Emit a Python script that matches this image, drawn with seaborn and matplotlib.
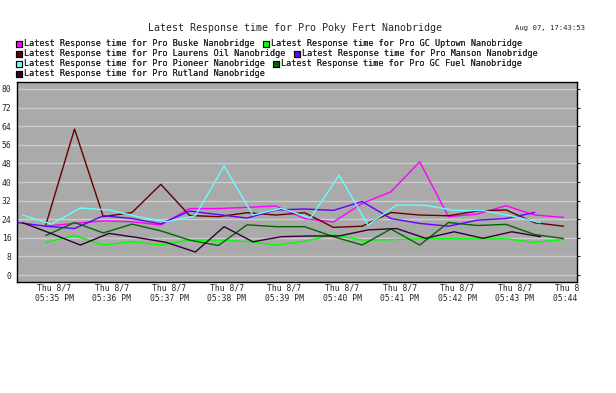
#!/usr/bin/env python3
"""Latest response time per nanobridge, Pro Poky Fert view."""

import pandas as pd
import matplotlib
matplotlib.use('Agg')
import matplotlib.pyplot as plt
from matplotlib.lines import Line2D
from matplotlib.transforms import Bbox, TransformedBbox
import seaborn as sns

# Poll times (two pollers, a few seconds apart)
TIMES_A = ['17:34:21', '17:34:51', '17:35:21', '17:35:51', '17:36:21',
           '17:36:51', '17:37:21', '17:37:51', '17:38:21', '17:38:51',
           '17:39:21', '17:39:51', '17:40:21', '17:40:51', '17:41:21',
           '17:41:51', '17:42:21', '17:42:51', '17:43:21', '17:43:51']
TIMES_B = ['17:34:27', '17:34:57', '17:35:27', '17:35:57', '17:36:27',
           '17:36:57', '17:37:27', '17:37:57', '17:38:27', '17:38:57',
           '17:39:27', '17:39:57', '17:40:27', '17:40:57', '17:41:27',
           '17:41:57', '17:42:27', '17:42:57', '17:43:27', '17:43:57']

NAMES = ['Buske', 'GC Uptown', 'Laurens Oil', 'Manson', 'Pioneer', 'GC Fuel', 'Rutland']
COLORS = ['#ff00ff', '#00ff00', '#660000', '#6600ff', '#66ffff', '#006600', '#330033']

N = None
buske = [N, 21.0, 22.2, 23.3, 22.9, 21.5, 28.6, 28.6, 29.1, 29.7,
         24.3, 22.8, 30.8, 35.8, 48.7, 25.1, 26.2, 29.8, 25.8, 24.8]
gc_uptown = [N, 14.1, 17.0, 12.9, 14.3, 12.9, 15.0, 15.0, 14.4, 12.9,
             14.5, 17.3, 15.0, 15.2, 15.6, 15.6, 15.6, 15.6, 14.0, 15.3]
laurens_oil = [N, 21.5, 62.8, 25.1, 26.9, 39.0, 25.6, 25.1, 26.8, 25.8,
               26.8, 20.5, 21.0, 26.9, 25.8, 25.5, 27.5, 28.0, 22.5, 21.0]
manson = [22.6, 21.0, 20.0, 25.5, 24.3, 22.0, 27.5, 26.0, 24.5, 28.0,
          28.4, 27.8, 31.6, 24.3, 22.2, 21.0, 23.6, 24.3, 26.9, N]
pioneer = [25.8, 21.9, 28.8, 28.0, 25.1, 22.9, 25.5, 46.9, 25.8, 28.7,
           24.4, 43.0, 21.5, 30.1, 30.0, 27.8, 27.7, 25.4, 22.5, N]
gc_fuel = [N, 17.0, 22.6, 18.1, 21.9, 19.0, 15.0, 12.7, 21.6, 20.8,
           20.8, 16.5, 12.9, 19.8, 12.9, 22.6, 21.3, 21.8, 17.4, 15.7]
rutland = [22.5, 17.8, 12.9, 17.9, 16.1, 14.0, 9.9, 20.8, 14.3, 16.5,
           16.8, 16.8, 19.4, 20.0, 15.8, 18.6, 15.8, 18.6, 16.5, N]

SERIES = [buske, gc_uptown, laurens_oil, manson, pioneer, gc_fuel, rutland]
SERIES_TIMES = [TIMES_A, TIMES_A, TIMES_A, TIMES_A, TIMES_B, TIMES_A, TIMES_B]

X_TICKS = ['17:35', '17:36', '17:37', '17:38', '17:39',
           '17:40', '17:41', '17:42', '17:43', '17:44']
X_TICK_LABELS = ['Thu 8/7\n05:35 PM', 'Thu 8/7\n05:36 PM', 'Thu 8/7\n05:37 PM',
                 'Thu 8/7\n05:38 PM', 'Thu 8/7\n05:39 PM', 'Thu 8/7\n05:40 PM',
                 'Thu 8/7\n05:41 PM', 'Thu 8/7\n05:42 PM', 'Thu 8/7\n05:43 PM',
                 'Thu 8/7\n05:44 PM']
DAY = '2025-08-07 '

# legend rows as laid out on the page (series indices)
LEGEND_ROWS = [(0, 1), (2, 3), (4, 5), (6,)]


def build_frame():
    rows = []
    for name, vals, times in zip(NAMES, SERIES, SERIES_TIMES):
        label = f'Latest Response time for Pro {name} Nanobridge'
        for t, v in zip(times, vals):
            if v is None:
                continue
            rows.append({'time': pd.Timestamp(DAY + t), 'value': v, 'series': label})
    return pd.DataFrame(rows)


def main():
    sns.set_style('white')
    plt.rcParams['font.family'] = ['DejaVu Sans Mono']

    df = build_frame()
    labels = [f'Latest Response time for Pro {n} Nanobridge' for n in NAMES]
    palette = dict(zip(labels, COLORS))

    fig = plt.figure(figsize=(6.16, 3.93), dpi=100)
    ax = fig.add_axes([0.0276, 0.2824, 0.909, 0.5089])
    ax.set_facecolor('#aaaaaa')

    ax.set_yticks(range(0, 81, 8))
    ax.yaxis.grid(True, color='#cccccc', linewidth=1)
    ax.set_axisbelow(True)

    sns.lineplot(data=df, x='time', y='value', hue='series', hue_order=labels,
                 palette=palette, linewidth=1, estimator=None, legend=False, ax=ax)

    ax.set_ylim(-3, 83)
    ax.set_xlim(pd.Timestamp(DAY + '17:34:21'), pd.Timestamp(DAY + '17:44:05'))
    ax.set_xticks([pd.Timestamp(DAY + t) for t in X_TICKS])
    ax.set_xticklabels(X_TICK_LABELS, fontsize=5.8, linespacing=1.25)
    ax.tick_params(axis='y', labelsize=5.8, length=2, right=True, pad=2)
    ax.tick_params(axis='x', length=4, direction='inout', pad=-1)
    ax.set_xlabel('')
    ax.set_ylabel('')
    for s in ax.spines.values():
        s.set_color('black')
        s.set_linewidth(1)

    # last tick label is cut at the plot's right edge
    clip = TransformedBbox(Bbox([[0, 0], [580 / 616, 1]]), fig.transFigure)
    last = ax.get_xticklabels()[-1]
    last.set_clip_on(True)
    last.set_clip_box(clip)

    fig.text(0.479, 0.93, 'Latest Response time for Pro Poky Fert Nanobridge',
             ha='center', va='center', fontsize=7.2)
    fig.text(0.95, 0.928, 'Aug 07, 17:43:53', ha='right', va='center', fontsize=5.2)

    # legend, one row at a time so the second entry follows the first
    row_y = [44, 54, 64, 74]
    for row, y in zip(LEGEND_ROWS, row_y):
        handles = [Line2D([], [], marker='s', linestyle='', markersize=5,
                          markerfacecolor=COLORS[i], markeredgecolor='black',
                          markeredgewidth=0.8) for i in row]
        leg = fig.legend(handles, [labels[i] for i in row], ncol=2, loc='center left',
                         bbox_to_anchor=(0.026, 1 - y / 393), frameon=False, fontsize=6.1,
                         handlelength=0.8, handletextpad=0.2, columnspacing=0.9,
                         borderpad=0, borderaxespad=0)
        fig.add_artist(leg)

    plt.savefig('out.png', dpi=100)
    plt.close()


if __name__ == '__main__':
    main()
